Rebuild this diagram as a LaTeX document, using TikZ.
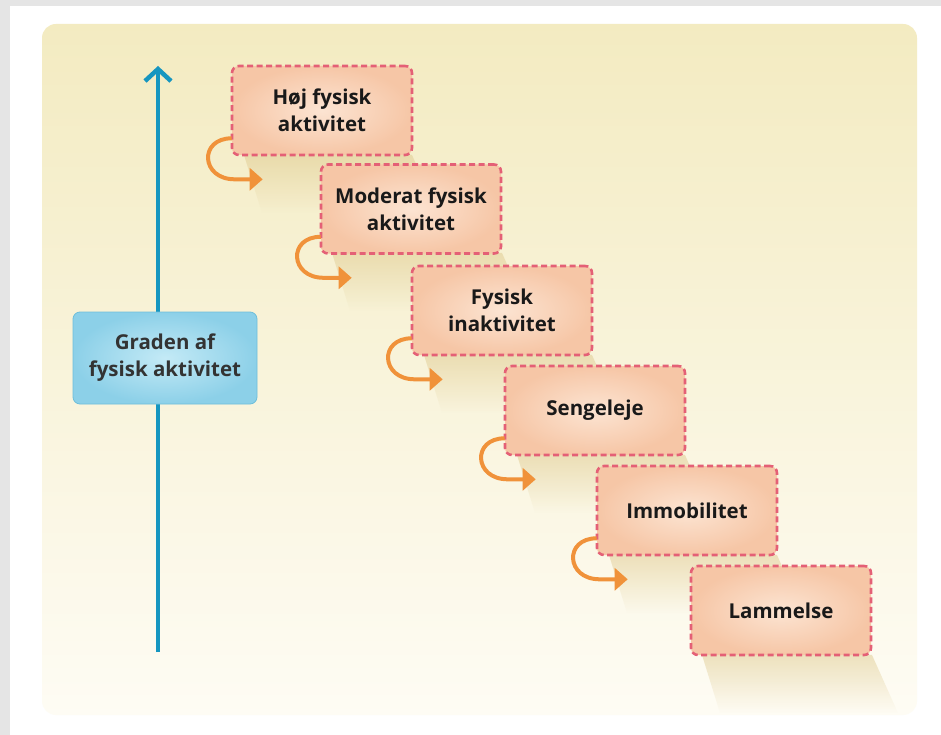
\documentclass[tikz,border=0pt]{standalone}
\usepackage{fontspec}
\setmainfont{Open Sans}
\usetikzlibrary{arrows.meta,fadings,calc}
\definecolor{framegrey}{RGB}{229,229,229}
\definecolor{bgtop}{RGB}{243,235,193}
\definecolor{bgbot}{RGB}{254,252,244}
\definecolor{peachin}{RGB}{252,228,210}
\definecolor{peachout}{RGB}{246,198,166}
\definecolor{dashpink}{RGB}{228,96,118}
\definecolor{bluein}{RGB}{196,234,246}
\definecolor{blueout}{RGB}{140,208,232}
\definecolor{blueedge}{RGB}{110,190,218}
\definecolor{axisblue}{RGB}{22,150,192}
\definecolor{arroworange}{RGB}{240,146,58}
\definecolor{shadowcol}{RGB}{222,200,140}
\tikzset{
  stepbox/.style={draw=dashpink, line width=2.6pt, dash pattern=on 6pt off 3.5pt,
    rounded corners=7pt, inner color=peachin, outer color=peachout,
    minimum width=180pt, minimum height=89pt, align=center, text=black!90,
    font=\bfseries\fontsize{20.5}{27}\selectfont},
  axisbox/.style={draw=blueedge, line width=0.8pt, rounded corners=7pt,
    inner color=bluein, outer color=blueout,
    minimum width=184pt, minimum height=92pt, align=center, text=black!80,
    font=\bfseries\fontsize{20.5}{27}\selectfont},
  turnarrow/.style={draw=arroworange, line width=4pt,
    -{Triangle[length=13pt,width=22pt]}},
  axisarrow/.style={draw=axisblue, line width=4.5pt,
    -{Straight Barb[length=12pt,width=26pt,line width=4.5pt]}},
  boxshadow/.style={fill=shadowcol, path fading=south, fill opacity=0.5}
}
\begin{document}
\begin{tikzpicture}[x=1pt,y=-1pt]
\useasboundingbox (0,0) rectangle (941,735);
\fill[framegrey] (0,0) rectangle (941,735);
\fill[white] (10,6) rectangle (941,735);
\shade[top color=bgtop, bottom color=bgbot, rounded corners=14pt] (42,24) rectangle (917,715);

% shadows
\foreach \l/\r/\b in {232/412/155, 320/502/253, 412/592/355, 505/685/455, 597/777/555, 690/872/655}{
  \fill[boxshadow] (\l+12,\b) -- (\r,\b) -- (\r+26,\b+58) -- (\l+30,\b+58) -- cycle;
}

% axis
\coordinate (axbot) at (158,652);
\coordinate (axtop) at (158,66);
\draw[axisarrow] (axbot) -- (axtop);
\node[axisbox] (axis) at (165,358) {Graden af\\fysisk aktivitet};

% steps
\node[stepbox] (b1) at (322,110.5) {Høj fysisk\\aktivitet};
\node[stepbox] (b2) at (411,209) {Moderat fysisk\\aktivitet};
\node[stepbox] (b3) at (502,310.5) {Fysisk\\inaktivitet};
\node[stepbox] (b4) at (595,410.5) {Sengeleje};
\node[stepbox] (b5) at (687,510.5) {Immobilitet};
\node[stepbox] (b6) at (781,610.5) {Lammelse};

% turning arrows
\foreach \i in {1,...,5}{
  \coordinate (s\i) at ($(b\i.south west)+(1,-18)$);
  \coordinate (t\i) at ($(b\i.south west)+(32,23)$);
  \draw[turnarrow] (s\i) .. controls +(-33,0) and ($(b\i.south west)+(-30,23)$) .. ($(b\i.south west)+(4,23)$) -- (t\i);
}
\end{tikzpicture}
\end{document}
